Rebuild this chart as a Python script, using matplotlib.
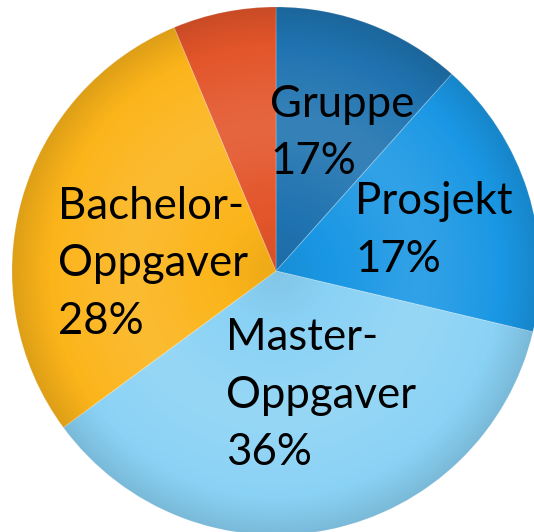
import numpy as np
import matplotlib
matplotlib.use("Agg")
import matplotlib.pyplot as plt
from matplotlib.patches import Circle

plt.rcParams['font.family'] = ['Lato', 'DejaVu Sans']

# --------------------------------------------------
# Data (share of each category)
# --------------------------------------------------
categories = ["Gruppe", "Prosjekt", "Master-Oppgaver", "Bachelor-Oppgaver", "Annet"]
shares = [11.6, 17.1, 36.2, 28.8, 6.3]
label_lines = [
    ["Gruppe", "17%"],
    ["Prosjekt", "17%"],
    ["Master-", "Oppgaver", "36%"],
    ["Bachelor-", "Oppgaver", "28%"],
    [],
]
colors = ["#1f73b0", "#1a97e4", "#8ad2f5", "#fbb41a", "#e3552a"]

W, H = 534, 532
cx, cy, R = 276, H - 271, 264

fig = plt.figure(figsize=(W / 100, H / 100), dpi=100)
ax = fig.add_axes([0, 0, 1, 1])

wedges, _ = ax.pie(shares, colors=colors, startangle=90, counterclock=False,
                   center=(cx, cy), radius=R, frame=True,
                   wedgeprops=dict(linewidth=0.8, edgecolor=(1, 1, 1, 0.2)))
ax.set_xlim(0, W)
ax.set_ylim(0, H)
ax.set_aspect("equal")
ax.axis("off")

# soft shading so the pie looks a bit glossy
n = 400
xs = np.linspace(cx - R, cx + R, n)
ys = np.linspace(cy - R, cy + R, n)
X, Y = np.meshgrid(xs, ys)
r = np.hypot(X - cx, Y - cy) / R
light = 0.10 * np.exp(-((r - 0.55) / 0.22) ** 2)
dark = 0.12 * np.clip((r - 0.8) / 0.2, 0, 1) ** 1.5 + 0.06 * np.clip(1 - r / 0.25, 0, 1)
rgba = np.zeros((n, n, 4))
rgba[..., :3] = np.where((light > dark)[..., None], 1.0, 0.0)
rgba[..., 3] = np.abs(light - dark)
clip = Circle((cx, cy), R, transform=ax.transData, facecolor="none", edgecolor="none")
ax.add_patch(clip)
im = ax.imshow(rgba, extent=(cx - R, cx + R, cy - R, cy + R), origin="lower",
               interpolation="bilinear", zorder=3)
im.set_clip_path(clip)

# labels placed inside the slices
label_pos = [(270, 117), (355, 214), (226, 350), (58, 219), None]
line_gap = 57.5
for lines, pos in zip(label_lines, label_pos):
    if pos is None:
        continue
    x0, y0 = pos
    for i, s in enumerate(lines):
        ax.text(x0, H - (y0 + i * line_gap), s, fontsize=31.5, color="black",
                ha="left", va="baseline", zorder=5)

fig.savefig("out.png", dpi=100)
